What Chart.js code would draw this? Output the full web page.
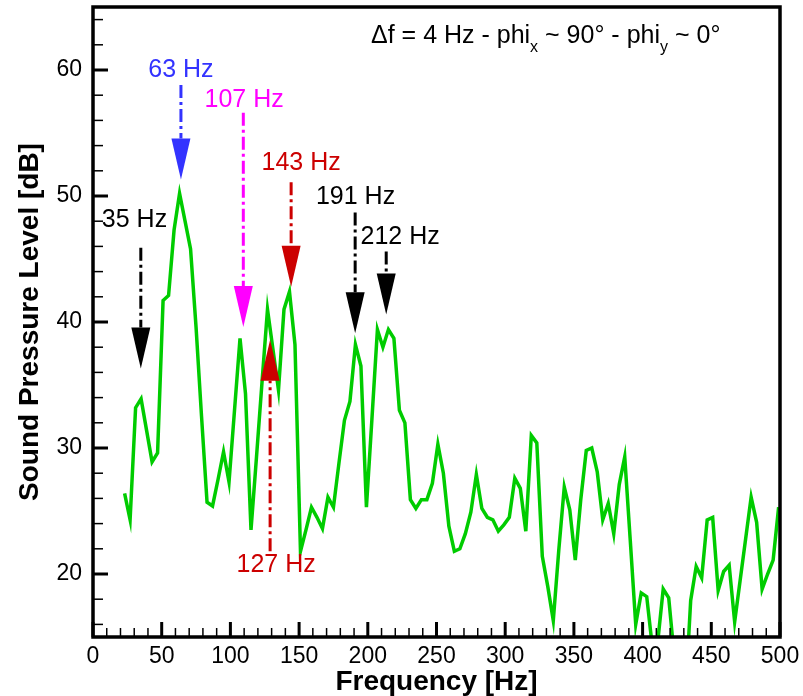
<!DOCTYPE html>
<html>
<head>
<meta charset="utf-8">
<script src="https://cdn.jsdelivr.net/npm/chart.js@4.4.1/dist/chart.umd.min.js"></script>
<style>
  html, body { margin: 0; padding: 0; background: #fff; }
  canvas { display: block; }
</style>
</head>
<body>
<canvas id="spectrum" width="803" height="696"></canvas>
<script>
// spectrum (4 Hz bins)
const freqs = [23, 27, 31, 35, 39, 43, 47, 51, 55, 59, 63, 67, 71, 75, 79, 83, 87, 91, 95, 99,
  103, 107, 111, 115, 119, 123, 127, 131, 135, 139, 143, 147, 151, 155, 159, 163, 167, 171, 175, 179,
  183, 187, 191, 195, 199, 203, 207, 211, 215, 219, 223, 227, 231, 235, 239, 243, 247, 251, 255, 259,
  263, 267, 271, 275, 279, 283, 287, 291, 295, 299, 303, 307, 311, 315, 319, 323, 327, 331, 335, 339,
  343, 347, 351, 355, 359, 363, 367, 371, 375, 379, 383, 387, 391, 395, 399, 403, 407, 411, 415, 419,
  423, 427, 431, 435, 439, 443, 447, 451, 455, 459, 463, 467, 471, 475, 479, 483, 487, 491, 495, 499];
const spl = [26.4, 24.3, 33.2, 33.9, 31.4, 28.9, 29.6, 41.7, 42.1, 47.3, 50.2, 48.0, 45.8, 39.6, 32.5, 25.7, 25.4, 27.5, 29.7, 27.3,
  33.0, 38.7, 34.3, 23.5, 29.3, 35.2, 41.0, 37.8, 34.6, 41.0, 42.4, 38.2, 21.8, 23.5, 25.3, 24.5, 23.6, 26.1, 25.3, 28.8,
  32.2, 33.7, 38.2, 36.5, 25.3, 32.3, 39.4, 38.0, 39.4, 38.7, 33.0, 32.0, 25.9, 25.2, 25.9, 25.9, 27.2, 30.3, 28.0, 23.8,
  21.8, 22.0, 23.2, 24.9, 27.9, 25.2, 24.5, 24.3, 23.4, 23.9, 24.5, 27.6, 26.8, 23.4, 31.0, 30.4, 21.4, 19.0, 16.3, 21.9,
  26.9, 25.1, 21.1, 25.9, 29.8, 30.0, 28.1, 24.3, 25.6, 23.2, 27.1, 29.3, 22.7, 16.0, 18.5, 18.2, 14.3, 14.6, 18.8, 18.1,
  13.5, 11.0, 10.0, 17.9, 20.6, 19.7, 24.3, 24.5, 18.7, 20.2, 20.7, 16.2, 19.5, 22.8, 26.1, 24.1, 18.8, 20.0, 21.1, 25.3];

const xTicks = [0, 50, 100, 150, 200, 250, 300, 350, 400, 450, 500];
const yTicks = [20, 30, 40, 50, 60];

// peak markers: arrow x, arrow tip, arrow tail, label position (all in data units)
const peakLabels = ['35 Hz', '63 Hz', '107 Hz', '143 Hz', '191 Hz', '212 Hz', '127 Hz'];
const peakFreq = [34.8, 64, 109.4, 144.2, 190.8, 213.4, 128.9];
const peakTip = [36.3, 51.3, 39.6, 42.8, 39.1, 40.6, 38.6];
const peakTail = [45.9, 58.8, 56.6, 51.1, 48.7, 45.6, 21.8];
const labelFreq = [30.2, 64, 110, 151.5, 191.1, 223.5, 133.3];
const labelDb = [48.1, 60.0, 57.6, 52.6, 49.9, 46.7, 20.7];
const peakColors = ['#000000', '#3333ff', '#ff00ff', '#cc0000', '#000000', '#000000', '#cc0000'];

const FONT = '"Liberation Sans", Arial, sans-serif';

// frame, inward ticks, peak arrows and the header text
const decoracao = {
  id: 'decoracao',
  afterDatasetsDraw(chart) {
    const ctx = chart.ctx;
    const xs = chart.scales.x, ys = chart.scales.y;
    const a = chart.chartArea;
    ctx.save();

    // arrows
    peakFreq.forEach((f, i) => {
      const x = xs.getPixelForValue(f);
      const tip = ys.getPixelForValue(peakTip[i]);
      const tail = ys.getPixelForValue(peakTail[i]);
      const dir = tail < tip ? 1 : -1;
      const base = tip - dir * 41;
      ctx.strokeStyle = peakColors[i];
      ctx.fillStyle = peakColors[i];
      ctx.lineWidth = 3;
      ctx.setLineDash([13, 4, 3, 4]);
      ctx.beginPath();
      ctx.moveTo(x, tail);
      ctx.lineTo(x, base);
      ctx.stroke();
      ctx.setLineDash([]);
      ctx.beginPath();
      ctx.moveTo(x - 9.5, base);
      ctx.lineTo(x + 9.5, base);
      ctx.lineTo(x, tip);
      ctx.closePath();
      ctx.fill();

      ctx.font = '25px ' + FONT;
      ctx.textAlign = 'center';
      ctx.textBaseline = 'middle';
      ctx.fillText(peakLabels[i], xs.getPixelForValue(labelFreq[i]), ys.getPixelForValue(labelDb[i]));
    });

    // header  "Δf = 4 Hz - phi_x ~ 90° - phi_y ~ 0°"
    const partes = [['\u0394f = 4 Hz - phi', false], ['x', true], [' ~ 90\u00b0 - phi', false], ['y', true], [' ~ 0\u00b0', false]];
    let tx = 371;
    ctx.textAlign = 'left';
    ctx.textBaseline = 'alphabetic';
    ctx.fillStyle = '#000';
    partes.forEach(([t, sub]) => {
      ctx.font = (sub ? '16px ' : '25px ') + FONT;
      ctx.fillText(t, tx, sub ? 52 : 43);
      tx += ctx.measureText(t).width;
    });

    // tick marks (inward)
    ctx.strokeStyle = '#000';
    ctx.lineCap = 'butt';
    for (let v = xs.min; v <= xs.max; v += 10) {
      const major = xTicks.includes(v);
      const x = xs.getPixelForValue(v);
      ctx.lineWidth = major ? 3 : 1.5;
      ctx.beginPath();
      ctx.moveTo(x, a.bottom);
      ctx.lineTo(x, a.bottom - (major ? 15 : 9));
      ctx.stroke();
    }
    for (let v = 16; v <= ys.max; v += 2) {
      const major = yTicks.includes(v);
      const y = ys.getPixelForValue(v);
      ctx.lineWidth = major ? 3 : 1.5;
      ctx.beginPath();
      ctx.moveTo(a.left, y);
      ctx.lineTo(a.left + (major ? 15 : 10), y);
      ctx.stroke();
    }

    // frame
    ctx.lineWidth = 3.5;
    ctx.strokeRect(a.left, a.top, a.right - a.left, a.bottom - a.top);
    ctx.restore();
  }
};

const ctx = document.getElementById('spectrum').getContext('2d');
new Chart(ctx, {
  type: 'line',
  data: {
    datasets: [{
      data: freqs.map((f, i) => ({ x: f, y: spl[i] })),
      borderColor: '#00cc00',
      borderWidth: 3.5,
      pointRadius: 0,
      tension: 0,
      fill: false
    }]
  },
  options: {
    responsive: false,
    animation: false,
    devicePixelRatio: 1,
    layout: { padding: { top: 7, right: 23, left: 0, bottom: 0 } },
    plugins: {
      legend: { display: false },
      tooltip: { enabled: false }
    },
    scales: {
      x: {
        type: 'linear',
        min: 0,
        max: 500,
        grid: { display: false, drawTicks: false },
        border: { display: false },
        afterBuildTicks: (scale) => { scale.ticks = xTicks.map(v => ({ value: v })); },
        afterFit: (scale) => {
          scale.height = 59;
          scale.paddingLeft = 0;
          scale.paddingRight = 0;
        },
        ticks: {
          color: '#000',
          padding: 6,
          maxRotation: 0,
          font: { family: FONT, size: 23 }
        },
        title: {
          display: true,
          text: 'Frequency [Hz]',
          color: '#000',
          padding: { top: 0, bottom: 0 },
          font: { family: FONT, size: 28, weight: 'bold', lineHeight: 1 }
        }
      },
      y: {
        min: 15,
        max: 65,
        grid: { display: false, drawTicks: false },
        border: { display: false },
        afterBuildTicks: (scale) => { scale.ticks = yTicks.map(v => ({ value: v })); },
        afterFit: (scale) => {
          scale.width = 93;
          scale.paddingTop = 0;
          scale.paddingBottom = 0;
        },
        ticks: {
          color: '#000',
          padding: 11,
          font: { family: FONT, size: 23 }
        },
        title: {
          display: true,
          text: 'Sound Pressure Level [dB]',
          color: '#000',
          padding: { top: 16, bottom: 0 },
          font: { family: FONT, size: 28, weight: 'bold', lineHeight: 1 }
        }
      }
    }
  },
  plugins: [decoracao]
});
</script>
</body>
</html>
